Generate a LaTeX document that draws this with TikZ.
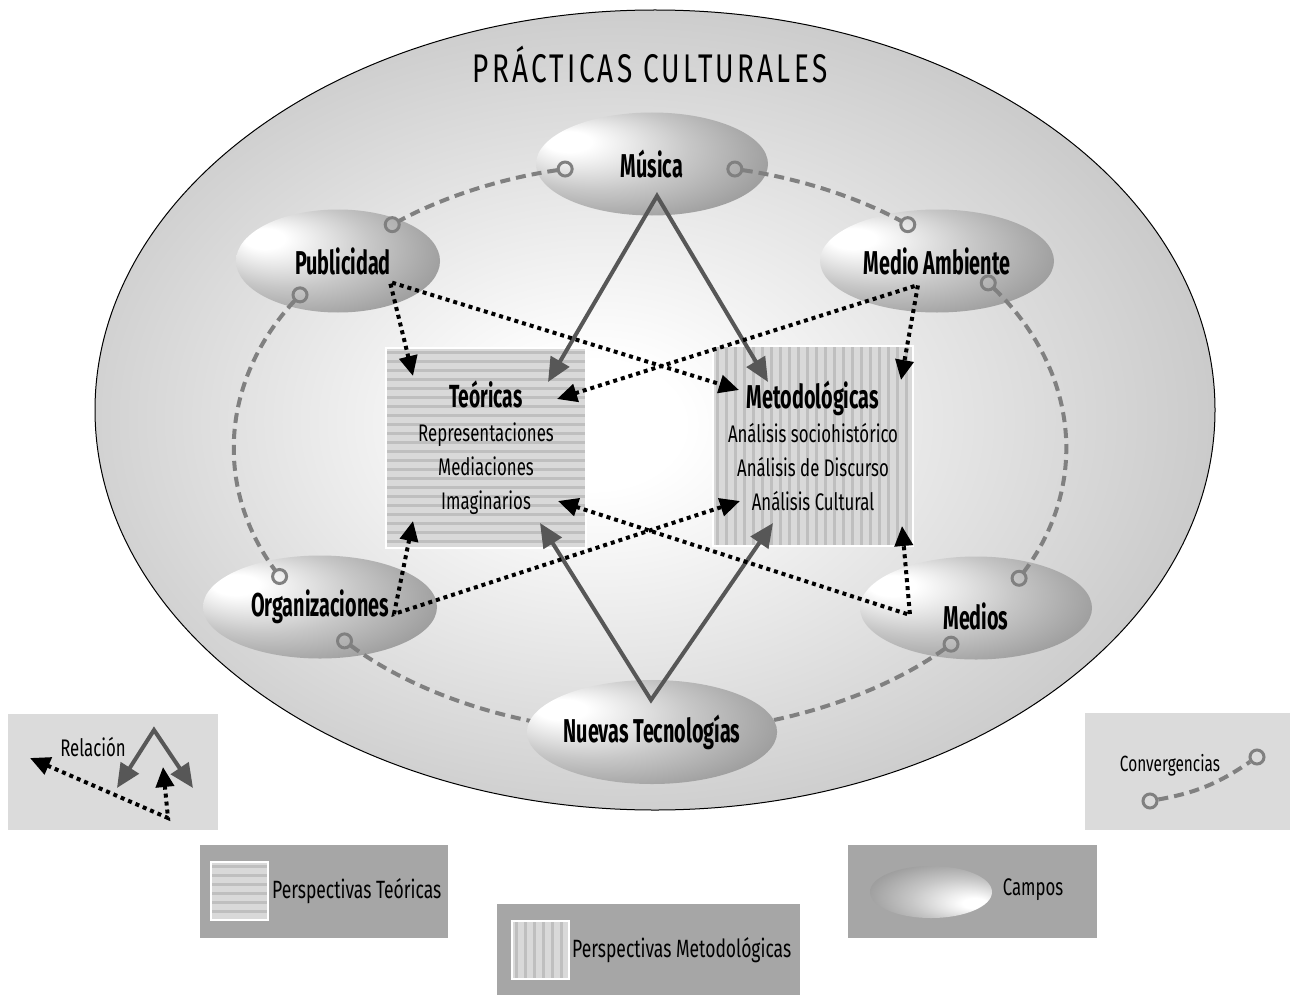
\documentclass[tikz,border=0pt]{standalone}
\usepackage{fontspec}
\setmainfont{Fira Sans}[FakeStretch=0.7,BoldFeatures={FakeStretch=0.6}]
\usetikzlibrary{shapes.geometric,arrows.meta,positioning,calc}

\pgfdeclareradialshading{fieldshade}{\pgfpoint{-20bp}{12bp}}{%
  color(0bp)=(white); color(5bp)=(white); color(20bp)=(black!22);
  color(33bp)=(black!38); color(42bp)=(black!55); color(50bp)=(black!76)}
\pgfdeclareradialshading{practshade}{\pgfpoint{-3bp}{-1bp}}{%
  color(0bp)=(white); color(4bp)=(white); color(50bp)=(black!42)}

\begin{document}
\begin{tikzpicture}[x=1pt, y=1pt,
        campo/.style={ellipse, shading=fieldshade, minimum width=232pt, minimum height=103pt,
            inner sep=0pt, font=\fontsize{33}{36}\selectfont\bfseries},
        persp/.style={draw=white, line width=2pt, fill=black!15, minimum width=200pt,
            minimum height=200pt, align=center, font=\fontsize{24}{34}\selectfont},
        horiz/.style={persp, path picture={\foreach \k in {0,...,23}
            \draw[black!25, line width=3pt] ([yshift=-4pt-\k*9pt]path picture bounding box.north west) -- ++(210pt,0);}},
        vert/.style={persp, path picture={\foreach \k in {0,...,23}
            \draw[black!25, line width=3pt] ([xshift=4pt+\k*9pt]path picture bounding box.north west) -- ++(0,-210pt);}},
        conv/.style={draw=black!50, line width=4pt, dash pattern=on 10pt off 6pt},
        convend/.style={circle, draw=black!50, line width=3pt, minimum size=14pt, inner sep=0pt},
        rel/.style={draw=black, line width=4pt, dash pattern=on 4pt off 4pt,
            >={Triangle[length=20pt,width=18pt]}, <->},
        sol/.style={draw=black!66, line width=4pt, line join=miter,
            >={Triangle[length=24pt,width=21pt]}, <->},
        legbox/.style={fill=black!35, inner sep=0pt},
        legtext/.style={font=\fontsize{25}{28}\selectfont, inner sep=1pt}
    ]
    \path[use as bounding box, fill=white] (0,0) rectangle (1292,-995);

    % practicas culturales
    \node[ellipse, draw=black, line width=1pt, shading=practshade, minimum width=1120pt,
        minimum height=800pt] (prac) at (655,-410) {};
    \node[font=\fontsize{40}{42}\selectfont\addfontfeatures{LetterSpace=8}] (title) at (650,-65) {PRÁCTICAS CULTURALES};

    % campos
    \node[campo] (mus) at (652,-164) {Música};
    \node[campo, minimum width=204pt] (pub) at (338,-261) {\hspace*{10pt}Publicidad};
    \node[campo, minimum width=234pt] (mamb) at (937,-261) {Medio Ambiente};
    \node[campo, minimum width=234pt] (org) at (320,-607) {Organizaciones};
    \node[campo] (med) at (976,-608) {\raisebox{-8pt}[\height][\depth]{Medios}};

    % convergencias
    \coordinate (cc) at (650,-448);
    \node[convend] (cv1) at ($(cc)+(101.8:415pt and 285pt)$) {};
    \node[convend] (cv2) at ($(cc)+(128.4:415pt and 285pt)$) {};
    \node[convend] (cv3) at ($(cc)+(78.2:415pt and 285pt)$) {};
    \node[convend] (cv4) at ($(cc)+(51.6:415pt and 285pt)$) {};
    \node[convend] (cv5) at ($(cc)+(147.5:415pt and 285pt)$) {};
    \node[convend] (cv6) at ($(cc)+(206.8:415pt and 285pt)$) {};
    \node[convend] (cv7) at ($(cc)+(35.4:415pt and 285pt)$) {};
    \node[convend] (cv8) at ($(cc)+(-27.2:415pt and 285pt)$) {};
    \node[convend] (cv9) at ($(cc)+(222.6:415pt and 285pt)$) {};
    \node[convend] (cv10) at ($(cc)+(-43.5:415pt and 285pt)$) {};
    \draw[conv, shorten <=8pt, shorten >=8pt] (cv1.center) arc[start angle=101.8, end angle=128.4, x radius=415pt, y radius=285pt];
    \draw[conv, shorten <=8pt, shorten >=8pt] (cv3.center) arc[start angle=78.2, end angle=51.6, x radius=415pt, y radius=285pt];
    \draw[conv, shorten <=8pt, shorten >=8pt] (cv5.center) arc[start angle=147.5, end angle=206.8, x radius=415pt, y radius=285pt];
    \draw[conv, shorten <=8pt, shorten >=8pt] (cv7.center) arc[start angle=35.4, end angle=-27.2, x radius=415pt, y radius=285pt];
    \draw[conv, shorten <=8pt] (cv9.center) arc[start angle=222.6, end angle=256, x radius=415pt, y radius=285pt];
    \draw[conv, shorten <=8pt] (cv10.center) arc[start angle=-43.5, end angle=-75, x radius=415pt, y radius=285pt];

    \node[campo, minimum width=234pt, minimum height=104pt] (nt) at (652,-732) {Nuevas Tecnologías};

    % perspectivas
    \node[horiz] (teo) at (486,-448) {{\fontsize{32}{34}\selectfont\bfseries Teóricas}\\Representaciones\\Mediaciones\\Imaginarios};
    \node[vert] (met) at (813,-446) {{\fontsize{33}{34}\selectfont\bfseries Metodológicas}\\Análisis sociohistórico\\Análisis de Discurso\\Análisis Cultural};

    % relaciones
    \coordinate (musJ) at ($(mus)+(5,-32)$);
    \coordinate (ntJ) at ($(nt)+(-1,32)$);
    \coordinate (pubJ) at ($(pub)+(52,-21)$);
    \coordinate (mambJ) at ($(mamb)+(-19,-24)$);
    \coordinate (orgJ) at ($(org)+(74,-7)$);
    \coordinate (medJ) at ($(med)+(-66,-7)$);
    \draw[sol] ($(teo)+(62,66)$) -- (musJ) -- ($(met)+(-45,64)$);
    \draw[sol] ($(teo)+(54,-75)$) -- (ntJ) -- ($(met)+(-40,-77)$);
    \draw[rel] ($(teo)+(-73,72)$) -- (pubJ) -- ($(met)+(-74,56)$);
    \draw[rel] ($(teo)+(71,49)$) -- (mambJ) -- ($(met)+(88,66)$);
    \draw[rel] ($(teo)+(-73,-73)$) -- (orgJ) -- ($(met)+(-73,-55)$);
    \draw[rel] ($(teo)+(72,-53)$) -- (medJ) -- ($(met)+(89,-80)$);

    % leyenda
    \node[legbox, fill=black!14, minimum width=210pt, minimum height=116pt] (relbox) at (113,-772) {};
    \node[legtext, font=\fontsize{24}{28}\selectfont] (reltxt) at (93,-747) {Relación};
    \coordinate (relA) at (154,-730);
    \coordinate (relB) at (168,-818);
    \draw[sol] (117,-788) -- (relA) -- (193,-788);
    \draw[rel] (30,-758) -- (relB) -- (163,-767);

    \node[legbox, fill=black!14, minimum width=205pt, minimum height=117pt] (convbox) at (1187.5,-771.5) {};
    \node[legtext, font=\fontsize{22}{28}\selectfont] (convtxt) at (1170,-765) {Convergencias};
    \node[convend] (lc1) at (1150,-801) {};
    \node[convend] (lc2) at (1257,-757) {};
    \draw[conv] (lc1) to[bend right=12] (lc2);

    \node[legbox, minimum width=248pt, minimum height=93pt] (teolbox) at (324,-891.5) {};
    \node[horiz, minimum width=57pt, minimum height=58pt] (teosw) at (239.5,-891) {};
    \node[legtext, right=2pt of teosw] (teotxt) {Perspectivas Teóricas};

    \node[legbox, minimum width=303pt, minimum height=91pt] (metlbox) at (648.5,-949.5) {};
    \node[vert, minimum width=57pt, minimum height=58pt] (metsw) at (540.5,-950) {};
    \node[legtext, right=1pt of metsw] (mettxt) {Perspectivas Metodológicas};

    \node[legbox, minimum width=249pt, minimum height=93pt] (camlbox) at (972.5,-891.5) {};
    \node[ellipse, shading=fieldshade, shading angle=180, minimum width=122pt, minimum height=52pt] (camsw) at (931,-892) {};
    \node[legtext, font=\fontsize{24}{28}\selectfont] (camtxt) at (1033,-890) {Campos};
\end{tikzpicture}
\end{document}
